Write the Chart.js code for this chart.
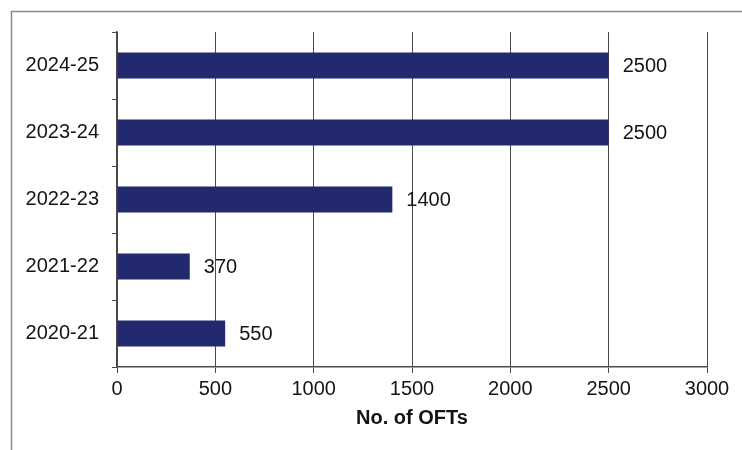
<!DOCTYPE html>
<html>
<head>
<meta charset="utf-8">
<script src="https://cdn.jsdelivr.net/npm/chart.js@4/dist/chart.umd.min.js"></script>
<style>
  html, body { margin: 0; padding: 0; background: #ffffff; }
  #wrap { width: 742px; height: 450px; position: relative; }
</style>
</head>
<body>
<div id="wrap"><canvas id="c" width="742" height="450"></canvas></div>
<script>
// Financial years, top to bottom
const years = ['2024-25', '2023-24', '2022-23', '2021-22', '2020-21'];
// Number of OFTs per year
const ofts = [2500, 2500, 1400, 370, 550];
// Horizontal axis ticks
const xTicks = [0, 500, 1000, 1500, 2000, 2500, 3000];

const FONT = "'Liberation Sans', Arial, sans-serif";
const TEXT = '#141414';
const BAR = '#22296e';
const GRID = '#4a4a4a';

// Frame along the top and left edges of the figure
const framePlugin = {
  id: 'frame',
  beforeDraw(chart) {
    const ctx = chart.ctx;
    ctx.save();
    ctx.strokeStyle = '#8a8a8a';
    ctx.lineWidth = 1.5;
    ctx.beginPath();
    ctx.moveTo(11.5, 450);
    ctx.lineTo(11.5, 11.5);
    ctx.lineTo(742, 11.5);
    ctx.stroke();
    ctx.restore();
  }
};

// Value written just past the end of each bar
const valueLabels = {
  id: 'valueLabels',
  afterDatasetsDraw(chart) {
    const ctx = chart.ctx;
    const meta = chart.getDatasetMeta(0);
    ctx.save();
    ctx.font = '20px ' + FONT;
    ctx.fillStyle = TEXT;
    ctx.textAlign = 'left';
    ctx.textBaseline = 'middle';
    meta.data.forEach((bar, i) => {
      ctx.fillText(String(chart.data.datasets[0].data[i]), bar.x + 14, bar.y + 1);
    });
    ctx.restore();
  }
};

new Chart(document.getElementById('c'), {
  type: 'bar',
  data: {
    labels: years,
    datasets: [{
      data: ofts,
      backgroundColor: BAR,
      borderWidth: 0,
      barPercentage: 0.39,
      categoryPercentage: 1
    }]
  },
  options: {
    indexAxis: 'y',
    responsive: false,
    animation: false,
    devicePixelRatio: 1,
    layout: { padding: { left: 0, top: 32, right: 35, bottom: 0 } },
    plugins: {
      legend: { display: false },
      tooltip: { enabled: false }
    },
    scales: {
      x: {
        min: 0,
        max: 3000,
        afterBuildTicks(scale) { scale.ticks = xTicks.map(v => ({ value: v })); },
        afterFit(scale) { scale.height = 83; },
        grid: {
          color: GRID,
          lineWidth: 1,
          drawTicks: true,
          tickLength: 6,
          tickColor: GRID
        },
        border: { display: true, color: GRID, width: 1.5 },
        ticks: {
          color: TEXT,
          font: { family: FONT, size: 20 },
          padding: 4,
          maxRotation: 0,
          callback: v => String(v)
        },
        title: {
          display: true,
          text: 'No. of OFTs',
          color: TEXT,
          font: { family: FONT, size: 20, weight: 'bold' },
          padding: { top: 0, bottom: 20 }
        }
      },
      y: {
        afterFit(scale) { scale.width = 117; },
        grid: {
          display: true,
          drawOnChartArea: false,
          drawTicks: true,
          tickLength: 5,
          offset: true,
          color: GRID,
          tickColor: GRID
        },
        border: { display: true, color: GRID, width: 1.5 },
        ticks: {
          color: TEXT,
          font: { family: FONT, size: 20 },
          padding: 13
        }
      }
    }
  },
  plugins: [framePlugin, valueLabels]
});
</script>
</body>
</html>
